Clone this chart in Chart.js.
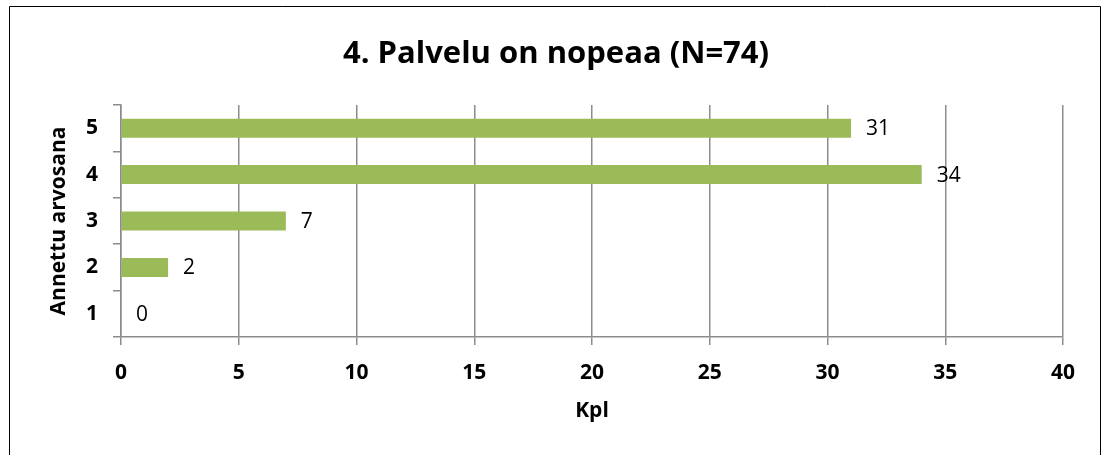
<!DOCTYPE html>
<html>
<head>
<meta charset="utf-8">
<script src="https://cdn.jsdelivr.net/npm/chart.js@4"></script>
<style>
  html, body { margin: 0; padding: 0; background: #fff; }
  #wrap { width: 1106px; height: 455px; }
</style>
</head>
<body>
<div id="wrap"><canvas id="chart" width="1106" height="455"></canvas></div>
<script>
// data
const grades = ['5', '4', '3', '2', '1'];
const counts = [31, 34, 7, 2, 0];
const xTicks = [0, 5, 10, 15, 20, 25, 30, 35, 40];

const titleText = '4. Palvelu on nopeaa (N=74)';
const yTitle = 'Annettu arvosana';
const xTitle = 'Kpl';

const FONT = "'Open Sans', sans-serif";
const gridGray = '#8c8c8c';

// outer frame round the whole chart
const framePlugin = {
    id: 'frame',
    beforeDraw(chart) {
        const ctx = chart.ctx;
        ctx.save();
        ctx.fillStyle = '#fff';
        ctx.fillRect(0, 0, chart.width, chart.height);
        ctx.strokeStyle = '#000';
        ctx.lineWidth = 1;
        ctx.beginPath();
        ctx.moveTo(9.5, chart.height + 5);
        ctx.lineTo(9.5, 6.5);
        ctx.lineTo(1100.5, 6.5);
        ctx.lineTo(1100.5, chart.height + 5);
        ctx.stroke();
        ctx.restore();
    }
};

// value labels right of each bar
const valueLabels = {
    id: 'valueLabels',
    afterDatasetsDraw(chart) {
        const ctx = chart.ctx;
        ctx.save();
        ctx.font = '21px ' + FONT;
        ctx.fillStyle = '#000';
        ctx.textAlign = 'left';
        ctx.textBaseline = 'middle';
        chart.getDatasetMeta(0).data.forEach((bar, i) => {
            ctx.fillText(String(counts[i]), bar.x + 15, bar.y + 1);
        });
        ctx.restore();
    }
};

new Chart(document.getElementById('chart'), {
    type: 'bar',
    data: {
        labels: grades,
        datasets: [{
            data: counts,
            backgroundColor: '#9bbb59',
            borderWidth: 0,
            barPercentage: 0.41,
            categoryPercentage: 1
        }]
    },
    options: {
        indexAxis: 'y',
        responsive: false,
        animation: false,
        // left padding keeps the title centred where the reference has it
        layout: { padding: { left: 49, right: 43, top: 0, bottom: 0 } },
        plugins: {
            legend: { display: false },
            tooltip: { enabled: false },
            title: {
                display: true,
                text: titleText,
                color: '#000',
                font: { family: FONT, size: 31, weight: 'bold', lineHeight: 1.2 },
                padding: { top: 35.5, bottom: 32.3 }
            }
        },
        scales: {
            x: {
                min: 0,
                max: 40,
                afterBuildTicks: (scale) => { scale.ticks = xTicks.map(v => ({ value: v })); },
                afterFit: (scale) => { scale.height = 118; },
                grid: { color: gridGray, lineWidth: 1.5, drawTicks: true, tickLength: 8, tickColor: gridGray },
                border: { color: gridGray, width: 1.5 },
                ticks: {
                    color: '#000',
                    padding: 15,
                    maxRotation: 0,
                    font: { family: FONT, size: 21, weight: 'bold' }
                },
                title: {
                    display: true,
                    text: xTitle,
                    color: '#000',
                    font: { family: FONT, size: 21, weight: 'bold', lineHeight: 1.2 },
                    padding: { top: 0, bottom: 31 }
                }
            },
            y: {
                afterFit: (scale) => { scale.width = 72; },
                grid: { drawOnChartArea: false, drawTicks: true, tickLength: 8, color: gridGray, lineWidth: 1.5 },
                border: { color: gridGray, width: 1.5 },
                ticks: {
                    color: '#000',
                    padding: 15,
                    font: { family: FONT, size: 21, weight: 'bold' }
                },
                title: {
                    display: true,
                    text: yTitle,
                    color: '#000',
                    font: { family: FONT, size: 21, weight: 'bold', lineHeight: 1.0 },
                    padding: { top: 0, bottom: 0 }
                }
            }
        }
    },
    plugins: [framePlugin, valueLabels]
});
</script>
</body>
</html>
